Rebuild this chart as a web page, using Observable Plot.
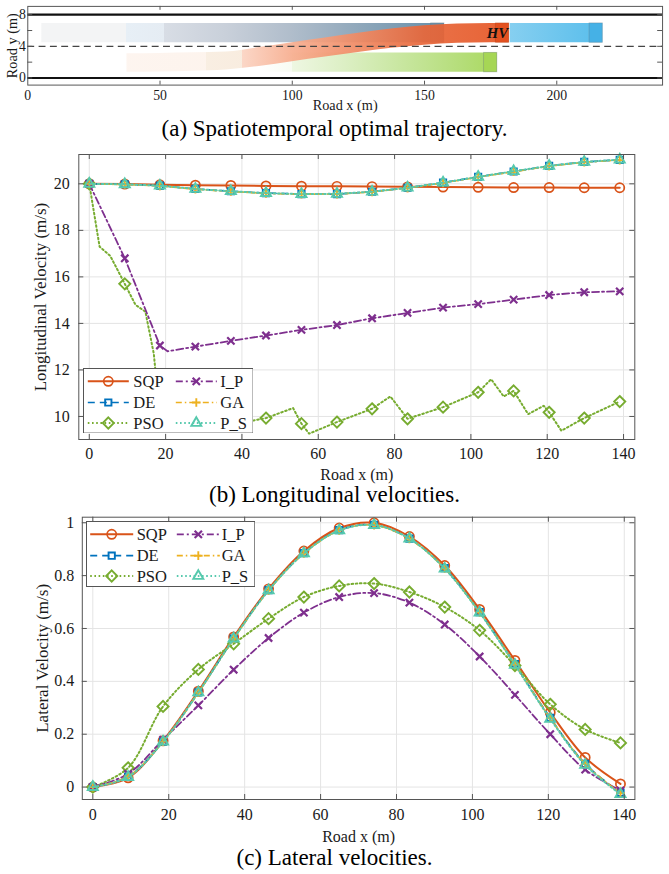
<!DOCTYPE html>
<html><head><meta charset="utf-8">
<script src="https://cdn.jsdelivr.net/npm/d3@7"></script>
<script src="https://cdn.jsdelivr.net/npm/@observablehq/plot@0.6"></script>
<style>
html,body{margin:0;padding:0;background:#fff;}
#root{position:relative;width:669px;height:874px;overflow:hidden;font-family:"Liberation Serif","Times New Roman",serif;color:#1a1a1a;}
.panel{position:absolute;left:0;}
.cap{position:absolute;left:0;width:669px;text-align:center;font-family:"Liberation Serif","Times New Roman",serif;font-size:23px;line-height:23px;color:#000;white-space:nowrap;}
.legend{position:absolute;}
</style></head><body><div id="root"></div>
<script>
// ================= DATA =================
// (a) spatiotemporal trajectories (swept areas, m)
const laneEdges = [0, 8];
const laneDivider = [4];
const trailX  = [5.3, 157.5];
const trailLo = [4.45, 4.45];
const trailHi = [6.9, 6.9];
const leadX   = [182.4, 217.4];
const leadLo  = [4.45, 4.45];
const leadHi  = [6.9, 6.9];
const sideX   = [88, 177.5];
const sideLo  = [0.72, 0.72];
const sideHi  = [3.17, 3.17];
const hvX  = [37.5, 50, 62.5, 75, 87.5, 100, 112.5, 125, 137.5, 150, 162.5, 175, 182];
const hvLo = [0.72, 0.76, 0.85, 1.0, 1.45, 2.05, 2.65, 3.22, 3.75, 4.15, 4.38, 4.45, 4.45];
const hvHi = [3.05, 3.1, 3.18, 3.28, 3.85, 4.45, 5.05, 5.65, 6.2, 6.6, 6.82, 6.9, 6.9];
// final vehicle footprints
const finalVeh = ["trail", "side", "lead", "HV"];
const finalX1  = [152.5, 172.5, 212.4, 177.0];
const finalX2  = [157.5, 177.5, 217.4, 182.0];
const finalLo  = [4.45, 0.72, 4.45, 4.45];
const finalHi  = [6.9, 3.17, 6.9, 6.9];
const aXTicks = [0, 50, 100, 150, 200];
const aYTicks = [0, 4, 8];
const aYMinor = [0, 2, 4, 6, 8];

// gradient stops (position along road, colour)
const trailStopX = [5.3, 37.5, 37.5, 51.7, 51.7, 75, 100, 125, 150, 157.5];
const trailStopC = ["#f3f4f5", "#f3f4f5", "#e7eff6", "#e5ecf3", "#d8dde5", "#c9d0da", "#b0bdcb", "#90a8bb", "#7095ae", "#6890aa"];
const hvStopX = [37.5, 67.5, 67.5, 81, 81, 100, 125, 150, 175, 182];
const hvStopC = ["#fdf4ee", "#fdf3ec", "#f8ede0", "#f8ebdd", "#fbd4c3", "#f7ae90", "#f08a63", "#e8673a", "#e65a2a", "#e4541f"];
const sideStopX = [88, 100, 100, 120, 145, 165, 177.5];
const sideStopC = ["#ffffff", "#f8fbf2", "#eef7e2", "#dcefc4", "#c5e59a", "#b4dd78", "#aad95f"];
const leadStopX = [182.4, 212.4];
const leadStopC = ["#86cff0", "#5fc0ec"];
const finalFill = ["#6890aa", "#a6d655", "#45b1e6", "#e35120"];

// (b),(c) sample positions
const roadX = [0, 9.3, 18.5, 27.8, 37.1, 46.3, 55.6, 64.9, 74.1, 83.4, 92.7, 101.9, 111.2, 120.5, 129.7, 139.0];
const methods = ["SQP", "DE", "PSO", "I_P", "GA", "P_S"];

// (b) longitudinal velocity (m/s)
const lonSQP = [20.00, 19.99, 19.96, 19.94, 19.93, 19.91, 19.90, 19.89, 19.88, 19.87, 19.86, 19.85, 19.84, 19.84, 19.83, 19.83];
const lonDE  = [20.00, 19.98, 19.92, 19.78, 19.68, 19.60, 19.56, 19.56, 19.66, 19.83, 20.05, 20.30, 20.53, 20.77, 20.94, 21.03];
const lonGA  = [20.00, 19.97, 19.91, 19.77, 19.67, 19.59, 19.55, 19.56, 19.65, 19.82, 20.04, 20.29, 20.52, 20.76, 20.93, 21.02];
const lonPS  = [20.00, 19.98, 19.92, 19.78, 19.68, 19.60, 19.56, 19.57, 19.66, 19.83, 20.05, 20.30, 20.54, 20.77, 20.94, 21.04];
const lonIP  = [20.00, 16.80, 13.05, 13.00, 13.25, 13.48, 13.72, 13.93, 14.22, 14.45, 14.68, 14.83, 15.02, 15.22, 15.34, 15.38];
const lonPSO = [20.00, 15.70, 10.00, 9.80, 9.70, 9.93, 9.69, 9.76, 10.33, 9.90, 10.40, 11.04, 11.10, 10.18, 9.93, 10.64];
const lonIPLineX = [0, 9.3, 18.5, 20.5, 27.8, 37.1, 46.3, 55.6, 64.9, 74.1, 83.4, 92.7, 101.9, 111.2, 120.5, 129.7, 139.0];
const lonIPLineV = [20.00, 16.80, 13.05, 12.80, 13.00, 13.25, 13.48, 13.72, 13.93, 14.22, 14.45, 14.68, 14.83, 15.02, 15.22, 15.34, 15.38];
const lonPSOLineX = [0, 2.7, 5.5, 9.3, 12.1, 14.7, 16.9, 18.5, 23, 27.8, 32, 37.1, 43.1, 46.3, 53.4, 55.6, 57.6, 64.9, 74.1, 78.9, 83.4, 92.7, 101.9, 105.3, 108.6, 111.2, 115.0, 119.1, 120.5, 123.7, 129.7, 139.0];
const lonPSOLineV = [20.0, 17.3, 16.9, 15.7, 14.8, 14.5, 12.7, 10.0, 9.6, 9.8, 10.2, 9.7, 9.83, 9.93, 10.36, 9.69, 9.26, 9.76, 10.33, 10.86, 9.90, 10.40, 11.04, 11.60, 10.86, 11.10, 10.10, 10.46, 10.18, 9.39, 9.93, 10.64];
const bXTicks = [0, 20, 40, 60, 80, 100, 120, 140];
const bYTicks = [10, 12, 14, 16, 18, 20];

// (c) lateral velocity (m/s)
const latSQP = [0, 0.035, 0.175, 0.363, 0.568, 0.750, 0.893, 0.980, 1.000, 0.948, 0.838, 0.672, 0.479, 0.282, 0.112, 0.012];
const latDE  = [0, 0.040, 0.172, 0.358, 0.562, 0.745, 0.885, 0.972, 0.992, 0.940, 0.828, 0.662, 0.465, 0.262, 0.088, -0.022];
const latGA  = [0, 0.040, 0.172, 0.357, 0.561, 0.744, 0.884, 0.971, 0.991, 0.939, 0.827, 0.661, 0.464, 0.261, 0.087, -0.023];
const latPS  = [0, 0.038, 0.172, 0.358, 0.562, 0.744, 0.884, 0.971, 0.991, 0.940, 0.826, 0.660, 0.462, 0.258, 0.084, -0.027];
const latPSO = [0, 0.073, 0.305, 0.445, 0.542, 0.637, 0.719, 0.761, 0.770, 0.738, 0.681, 0.593, 0.460, 0.313, 0.218, 0.167];
const latIP  = [0, 0.050, 0.179, 0.309, 0.444, 0.564, 0.660, 0.719, 0.734, 0.698, 0.615, 0.494, 0.349, 0.200, 0.066, -0.013];
const cXTicks = [0, 20, 40, 60, 80, 100, 120, 140];
const cYTicks = [0, 0.2, 0.4, 0.6, 0.8, 1];

// ================= STYLE =================
const sty = {
  SQP: {color: "#D95319", dash: null, sym: "circle", r: 4.6, sw: 2.0, mw: 1.7},
  DE:  {color: "#0072BD", dash: "7,5", sym: "square2", r: 4.0, sw: 1.7, mw: 1.9},
  PSO: {color: "#77AC30", dash: "1.6,2.6", sym: "diamond2", r: 5.0, sw: 2.0, mw: 1.9},
  I_P: {color: "#7E2F8E", dash: "7,3,2,3", sym: "times", r: 3.4, sw: 1.8, mw: 2.2},
  GA:  {color: "#EDB120", dash: "6,3,1.5,3", sym: "plus", r: 2.9, sw: 1.7, mw: 1.9},
  P_S: {color: "#56C9AD", dash: "1.6,2.6", sym: "triangle2", r: 4.8, sw: 2.0, mw: 1.9}
};
const FONT = '"Liberation Serif","Times New Roman",serif';
const FRAME = "#555";
const GRID = "#e4e4e4";

const root = d3.select("#root");
const rows = (xs, vs) => xs.map((x, i) => ({x, v: vs[i]}));

function caption(text, top) {
  root.append("div").attr("class", "cap").style("top", top + "px").text(text);
}

// ================= PANEL (a) =================
(function () {
  const mL = 27.7, mR = 7, mT = 6, mB = 32, W = 680, H = 118;
  const innerH = H - mT - mB, innerW = W - mL - mR;
  const band = (xs, lo, hi) => xs.map((x, i) => ({x, lo: lo[i], hi: hi[i]}));
  const finals = finalVeh.map((k, i) => ({k, x1: finalX1[i], x2: finalX2[i], lo: finalLo[i], hi: finalHi[i], fill: finalFill[i]}));
  const hvFinal = finals.filter(d => d.k === "HV");
  const otherFinal = finals.filter(d => d.k !== "HV");
  const svg = Plot.plot({
    width: W, height: H,
    marginLeft: mL, marginRight: mR, marginTop: mT, marginBottom: mB,
    x: {domain: [0, 240], ticks: aXTicks, tickSize: 0, tickPadding: 5.5, label: null},
    y: {domain: [-0.9, 9.05], ticks: aYTicks, tickSize: 0, tickPadding: 2, label: null},
    style: {fontFamily: FONT, fontSize: "14px", color: "#1a1a1a", background: "transparent", overflow: "visible"},
    marks: [
      Plot.areaY(band(trailX, trailLo, trailHi), {x: "x", y1: "lo", y2: "hi", fill: "url(#gTrail)"}),
      Plot.areaY(band(leadX, leadLo, leadHi), {x: "x", y1: "lo", y2: "hi", fill: "url(#gLead)"}),
      Plot.areaY(band(sideX, sideLo, sideHi), {x: "x", y1: "lo", y2: "hi", fill: "url(#gSide)"}),
      Plot.rect(otherFinal, {x1: "x1", x2: "x2", y1: "lo", y2: "hi", fill: "fill", stroke: "#6b7780", strokeOpacity: 0.35, strokeWidth: 1}),
      Plot.areaY(band(hvX, hvLo, hvHi), {x: "x", y1: "lo", y2: "hi", fill: "url(#gHV)", fillOpacity: 0.93, curve: "monotone-x"}),
      Plot.rect(hvFinal, {x1: "x1", x2: "x2", y1: "lo", y2: "hi", fill: "fill", stroke: "#a33a12", strokeOpacity: 0.3}),
      Plot.text(hvFinal, {x: "x2", y: d => (d.lo + d.hi) / 2, text: () => "HV", textAnchor: "end", dx: -1, dy: 0.5, fontWeight: "bold", fontStyle: "italic", fontSize: 15, fill: "#111"}),
      Plot.ruleY(laneEdges, {y: d => d, stroke: "#111", strokeWidth: 2.2}),
      Plot.ruleY(laneDivider, {y: d => d, stroke: "#444", strokeWidth: 1.3, strokeDasharray: "7,4.5"}),
      Plot.tickX(aXTicks.slice(1), {x: d => d, insetTop: innerH - 4, stroke: FRAME}),
      Plot.tickX(aXTicks.slice(1), {x: d => d, insetBottom: innerH - 4, stroke: FRAME}),
      Plot.tickY(aYMinor, {y: d => d, insetRight: innerW - 5, stroke: FRAME}),
      Plot.tickY(aYMinor, {y: d => d, insetLeft: innerW - 5, stroke: FRAME}),
      Plot.frame({stroke: FRAME, strokeWidth: 1}),
      Plot.text(["Road x (m)"], {frameAnchor: "bottom", lineAnchor: "middle", text: d => d, dy: 20.5, fontSize: 14.5, fill: "#1a1a1a"}),
      Plot.text(["Road y (m)"], {frameAnchor: "left", textAnchor: "middle", lineAnchor: "middle", text: d => d, rotate: -90, dx: -16, fontSize: 14.5, fill: "#1a1a1a"})
    ]
  });
  const xs = svg.scale("x");
  const defs = d3.select(svg).insert("defs", ":first-child");
  function grad(id, stopX, stopC) {
    const a = xs.apply(stopX[0]), b = xs.apply(stopX[stopX.length - 1]);
    const g = defs.append("linearGradient").attr("id", id).attr("gradientUnits", "userSpaceOnUse")
      .attr("x1", a).attr("x2", b).attr("y1", 0).attr("y2", 0);
    stopX.forEach((x, i) => g.append("stop").attr("offset", (xs.apply(x) - a) / (b - a)).attr("stop-color", stopC[i]));
  }
  grad("gTrail", trailStopX, trailStopC);
  grad("gHV", hvStopX, hvStopC);
  grad("gSide", sideStopX, sideStopC);
  grad("gLead", leadStopX, leadStopC);
  const holder = root.append("div").attr("class", "panel").style("top", "0px");
  holder.node().appendChild(svg);
  caption("(a) Spatiotemporal optimal trajectory.", 116.5);
})();

// ================= PANELS (b), (c) =================
function legendBox(left, top, w, h, rowsY, colMarker, colText, span) {
  const order = [["SQP", "I_P"], ["DE", "GA"], ["PSO", "P_S"]];
  const s = root.append("svg").attr("class", "legend").attr("width", w).attr("height", h)
    .style("left", left + "px").style("top", top + "px");
  s.append("rect").attr("x", 0.5).attr("y", 0.5).attr("width", w - 1).attr("height", h - 1)
    .attr("fill", "#fff").attr("stroke", "#555").attr("stroke-width", 1);
  order.forEach((row, ri) => row.forEach((m, ci) => {
    const st = sty[m], cy = rowsY[ri], cx = colMarker[ci];
    s.append("line").attr("x1", cx - span).attr("x2", cx + span).attr("y1", cy).attr("y2", cy)
      .attr("stroke", st.color).attr("stroke-width", st.sw).attr("stroke-dasharray", st.dash);
    const symMap = {circle: d3.symbolCircle, square2: d3.symbolSquare2, diamond2: d3.symbolDiamond2, times: d3.symbolTimes, plus: d3.symbolPlus, triangle2: d3.symbolTriangle2};
    s.append("path").attr("transform", `translate(${cx},${cy})`)
      .attr("d", d3.symbol(symMap[st.sym], Math.PI * st.r * st.r)())
      .attr("fill", "none").attr("stroke", st.color).attr("stroke-width", st.mw);
    s.append("text").attr("x", colText[ci]).attr("y", cy).attr("dy", "0.34em")
      .attr("font-family", FONT).attr("font-size", 16.5).attr("fill", "#1a1a1a").text(m);
  }));
}

function velPanel(cfg) {
  const {top, W, H, mL, mR, mT, mB, xDom, yDom, xTicks, yTicks, series, ylabel, ylabelDx, xlabelDy, curve, xPad, yPad, yFmt} = cfg;
  const innerW = W - mL - mR, innerH = H - mT - mB;
  const marks = [
    Plot.ruleX(xTicks, {x: d => d, stroke: GRID, strokeWidth: 1}),
    Plot.ruleY(yTicks, {y: d => d, stroke: GRID, strokeWidth: 1})
  ];
  methods.forEach(m => {
    const st = sty[m], sr = series[m];
    marks.push(Plot.line(sr.line, {x: "x", y: "v", stroke: st.color, strokeWidth: st.sw, strokeDasharray: st.dash, curve}));
    marks.push(Plot.dot(sr.pts, {x: "x", y: "v", symbol: st.sym, r: st.r, fill: "none", stroke: st.color, strokeWidth: st.mw}));
  });
  marks.push(
    Plot.tickX(xTicks, {x: d => d, insetTop: innerH - 5, stroke: FRAME}),
    Plot.tickX(xTicks, {x: d => d, insetBottom: innerH - 5, stroke: FRAME}),
    Plot.tickY(yTicks, {y: d => d, insetRight: innerW - 5, stroke: FRAME}),
    Plot.tickY(yTicks, {y: d => d, insetLeft: innerW - 5, stroke: FRAME}),
    Plot.frame({stroke: FRAME, strokeWidth: 1}),
    Plot.text(["Road x (m)"], {frameAnchor: "bottom", lineAnchor: "middle", text: d => d, dy: xlabelDy, fontSize: 16, fill: "#1a1a1a"}),
    Plot.text([ylabel], {frameAnchor: "left", textAnchor: "middle", lineAnchor: "middle", text: d => d, rotate: -90, dx: ylabelDx, fontSize: 17, fill: "#1a1a1a"})
  );
  const svg = Plot.plot({
    width: W, height: H, marginLeft: mL, marginRight: mR, marginTop: mT, marginBottom: mB,
    x: {domain: xDom, ticks: xTicks, tickSize: 0, tickPadding: xPad, label: null},
    y: {domain: yDom, ticks: yTicks, tickSize: 0, tickPadding: yPad, label: null, tickFormat: yFmt},
    style: {fontFamily: FONT, fontSize: "16px", color: "#1a1a1a", background: "transparent", overflow: "visible"},
    marks
  });
  const holder = root.append("div").attr("class", "panel").style("top", top + "px");
  holder.node().appendChild(svg);
}

// (b)
velPanel({
  top: 140, W: 669, H: 350, mL: 78.3, mR: 34.7, mT: 14, mB: 51,
  xDom: [-2.75, 142.95], yDom: [9.01, 21.26], xTicks: bXTicks, yTicks: bYTicks,
  xPad: 8, yPad: 9, yFmt: d => String(d), curve: "linear",
  ylabel: "Longitudinal Velocity (m/s)", ylabelDx: -38, xlabelDy: 35,
  series: {
    SQP: {line: rows(roadX, lonSQP), pts: rows(roadX, lonSQP)},
    DE:  {line: rows(roadX, lonDE),  pts: rows(roadX, lonDE)},
    PSO: {line: rows(lonPSOLineX, lonPSOLineV), pts: rows(roadX, lonPSO)},
    I_P: {line: rows(lonIPLineX, lonIPLineV), pts: rows(roadX, lonIP)},
    GA:  {line: rows(roadX, lonGA),  pts: rows(roadX, lonGA)},
    P_S: {line: rows(roadX, lonPS),  pts: rows(roadX, lonPS)}
  }
});
legendBox(82.7, 367.7, 170.6, 65.6, [13.3, 34.5, 55], [25.3, 113.3], [50.3, 137.3], 20.5);
caption("(b) Longitudinal velocities.", 483);

// (c)
velPanel({
  top: 505, W: 669, H: 365, mL: 81.8, mR: 34.6, mT: 11.7, mB: 71,
  xDom: [-2.77, 142.8], yDom: [-0.047, 1.021], xTicks: cXTicks, yTicks: cYTicks,
  xPad: 9, yPad: 8, yFmt: d => String(d), curve: "catmull-rom",
  ylabel: "Lateral Velocity (m/s)", ylabelDx: -40, xlabelDy: 37.5,
  series: {
    SQP: {line: rows(roadX, latSQP), pts: rows(roadX, latSQP)},
    DE:  {line: rows(roadX, latDE),  pts: rows(roadX, latDE)},
    PSO: {line: rows(roadX, latPSO), pts: rows(roadX, latPSO)},
    I_P: {line: rows(roadX, latIP),  pts: rows(roadX, latIP)},
    GA:  {line: rows(roadX, latGA),  pts: rows(roadX, latGA)},
    P_S: {line: rows(roadX, latPS),  pts: rows(roadX, latPS)}
  }
});
legendBox(86, 521, 169.3, 66, [13.3, 34.7, 55], [25.7, 112.3], [50.7, 135.7], 21.5);
caption("(c) Lateral velocities.", 846);
</script></body></html>
